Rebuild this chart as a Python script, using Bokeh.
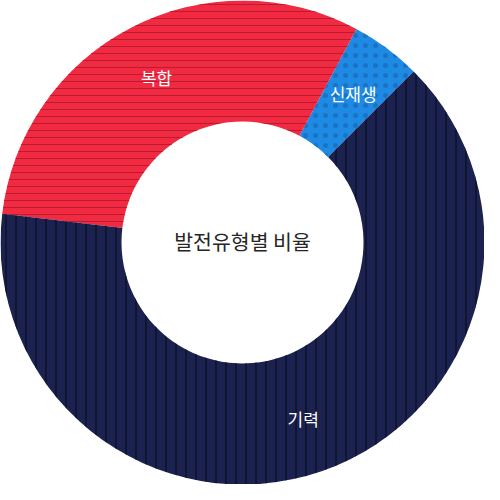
import math
from bokeh.plotting import figure
from bokeh.models import ColumnDataSource
from bokeh.core.properties import value
from bokeh.embed import file_html
from bokeh.resources import INLINE

# data (counter-clockwise from start angle)
categories = ["신재생", "복합", "기력"]
shares = [4.7, 30.9, 64.4]
start_deg = 45.0

colors = ["#1f8ae3", "#f12a42", "#1b2250"]
hatch_patterns = ["dot", "horizontal_line", "vertical_line"]
hatch_colors = ["#1872c6", "#b81c33", "#070b1e"]
hatch_scales = [10, 7, 10]
hatch_weights = [2.2, 1, 1.2]

total = sum(shares)
starts, ends, mids = [], [], []
a = math.radians(start_deg)
for s in shares:
    e = a + 2 * math.pi * s / total
    starts.append(a)
    ends.append(e)
    mids.append((a + e) / 2)
    a = e

label_r = 192
src = ColumnDataSource(dict(
    start=starts, end=ends, color=colors, hp=hatch_patterns, hc=hatch_colors,
    hs=hatch_scales, hw=hatch_weights,
))
lab = ColumnDataSource(dict(
    x=[label_r * math.cos(m) for m in mids],
    y=[label_r * math.sin(m) for m in mids],
    t=categories,
))

p = figure(width=484, height=484, x_range=(-250, 250), y_range=(-250, 250),
           output_backend="svg", toolbar_location=None, min_border=0)
p.axis.visible = False
p.grid.visible = False
p.outline_line_color = None
p.background_fill_color = "white"

p.annular_wedge(x=0, y=0, inner_radius=125, outer_radius=250,
                start_angle="start", end_angle="end", source=src,
                fill_color="color", line_color=None,
                hatch_pattern="hp", hatch_color="hc", hatch_scale="hs",
                hatch_weight="hw")

p.text(x="x", y="y", text="t", source=lab, text_color="white",
       text_font=value("Noto Sans CJK KR"), text_font_size="17px",
       text_align="center", text_baseline="middle")

p.text(x=[0], y=[2], text=["발전유형별 비율"], text_color="#262626",
       text_font=value("Noto Sans CJK KR"), text_font_size="20.5px",
       text_align="center", text_baseline="middle")

open("out.html", "w").write(file_html(p, INLINE))
